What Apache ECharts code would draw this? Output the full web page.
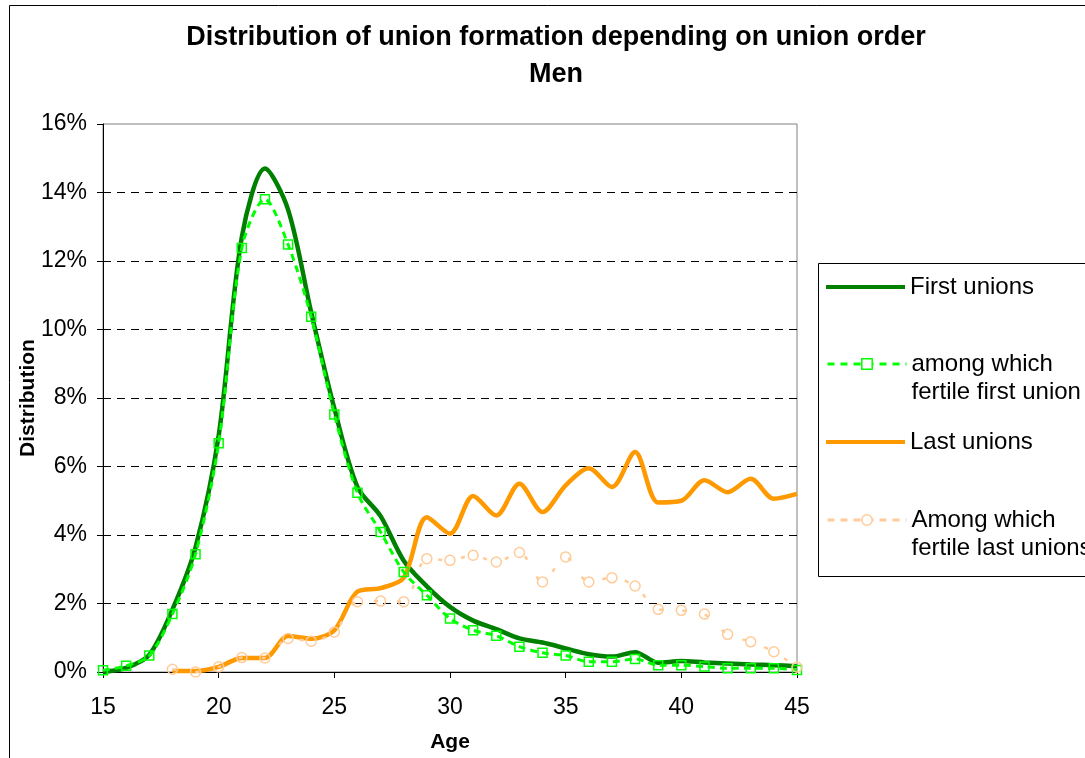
<!DOCTYPE html>
<html><head><meta charset="utf-8">
<script src="https://cdn.jsdelivr.net/npm/echarts@6/dist/echarts.min.js"></script>
<style>html,body{margin:0;padding:0;background:#fff}#c{width:1085px;height:758px}</style>
</head><body><div id="c"></div>
<script>
const ages = [15,16,17,18,19,20,21,22,23,24,25,26,27,28,29,30,31,32,33,34,35,36,37,38,39,40,41,42,43,44,45];
const firstUnions = [0.0,0.12,0.5,1.82,3.64,6.9,12.7,14.7,13.5,10.5,7.7,5.4,4.55,3.25,2.5,1.9,1.5,1.25,0.98,0.86,0.69,0.52,0.45,0.58,0.27,0.32,0.28,0.25,0.22,0.2,0.17];
const fertileFirst = [0.05,0.18,0.48,1.69,3.44,6.68,12.38,13.8,12.48,10.37,7.52,5.23,4.09,2.92,2.24,1.56,1.22,1.06,0.74,0.56,0.48,0.30,0.30,0.38,0.2,0.2,0.16,0.11,0.11,0.11,0.06];
const lastUnions = [null,null,null,0.03,0.03,0.15,0.41,0.41,1.05,0.97,1.22,2.35,2.45,2.75,4.52,4.04,5.14,4.57,5.5,4.67,5.45,5.95,5.4,6.42,4.95,5.0,5.6,5.25,5.64,5.06,5.2];
const fertileLast = [null,null,null,0.08,0.0,0.15,0.42,0.41,0.98,0.9,1.17,2.05,2.07,2.05,3.31,3.26,3.41,3.21,3.49,2.63,3.36,2.63,2.75,2.51,1.83,1.8,1.69,1.1,0.88,0.59,0.14];
const seriesNames = ['First unions','among which\nfertile first union','Last unions','Among which\nfertile last unions'];
const titleText = 'Distribution of union formation depending on union order\nMen';
const yTicks = [0,2,4,6,8,10,12,14,16];

const FONT = 'Liberation Sans, Arial, sans-serif';
const pairs = arr => ages.map((a, i) => [a, arr[i]]);
const C_FIRST = '#008000', C_FFIRST = '#00ff00', C_LAST = '#ff9900', C_FLAST = '#ffcc99';

const chart = echarts.init(document.getElementById('c'), null, {renderer: 'canvas'});
const textSt = {fontSize: 24, lineHeight: 28, color: '#000', fontFamily: FONT};
const twoLineFmt = name => '\n' + name;
chart.setOption({
  animation: false,
  backgroundColor: '#fff',
  title: {
    text: titleText, left: 551, top: 14, textAlign: 'center',
    textStyle: {fontSize: 27, fontWeight: 'bold', lineHeight: 37, color: '#000', fontFamily: FONT}
  },
  graphic: [
    {type: 'rect', silent: true, z: -10, shape: {x: 9.5, y: 5.5, width: 1100, height: 800}, style: {fill: 'none', stroke: '#000', lineWidth: 1}},
    {type: 'rect', silent: true, z: 1, shape: {x: 818.5, y: 263.5, width: 300, height: 313}, style: {fill: '#fff', stroke: '#000', lineWidth: 1}}
  ],
  legend: [
    {data: [seriesNames[0]], left: 826, top: 273, padding: 0, icon: 'rect', itemWidth: 79, itemHeight: 4, selectedMode: false, textStyle: textSt, itemStyle: {color: C_FIRST}},
    {data: [seriesNames[1]], left: 826, top: 322, padding: 0, itemWidth: 79, itemHeight: 13, selectedMode: false, textStyle: textSt, formatter: twoLineFmt,
     lineStyle: {color: C_FFIRST, width: 3, type: [7, 6]}, itemStyle: {color: '#fff', borderColor: C_FFIRST, borderWidth: 1.5}},
    {data: [seriesNames[2]], left: 826, top: 428, padding: 0, icon: 'rect', itemWidth: 79, itemHeight: 4, selectedMode: false, textStyle: textSt, itemStyle: {color: C_LAST}},
    {data: [seriesNames[3]], left: 826, top: 478, padding: 0, itemWidth: 79, itemHeight: 13, selectedMode: false, textStyle: textSt, formatter: twoLineFmt,
     lineStyle: {color: C_FLAST, width: 3, type: [7, 6]}, itemStyle: {color: '#fff', borderColor: C_FLAST, borderWidth: 1.5}}
  ],
  grid: {left: 103, right: 288, top: 124, bottom: 86, show: true, borderColor: '#808080', borderWidth: 1, backgroundColor: 'transparent'},
  xAxis: {
    type: 'value', min: 15, max: 45, interval: 5,
    name: 'Age', nameLocation: 'middle', nameGap: 60, nameMoveOverlap: false,
    nameTextStyle: {fontSize: 21, fontWeight: 'bold', color: '#000', fontFamily: FONT},
    axisLine: {show: true, lineStyle: {color: '#000', width: 1}},
    axisTick: {show: true, length: 6, lineStyle: {color: '#000'}},
    axisLabel: {fontSize: 23, color: '#000', fontFamily: FONT, margin: 24},
    splitLine: {show: false}
  },
  yAxis: {
    type: 'value', min: yTicks[0], max: yTicks[yTicks.length - 1], interval: 2,
    name: 'Distribution', nameLocation: 'middle', nameGap: 64, nameMoveOverlap: false,
    nameTextStyle: {fontSize: 21, fontWeight: 'bold', color: '#000', fontFamily: FONT},
    axisLine: {show: true, lineStyle: {color: '#000', width: 1}},
    axisTick: {show: true, length: 6, lineStyle: {color: '#000'}},
    axisLabel: {fontSize: 23, color: '#000', fontFamily: FONT, margin: 16, formatter: '{value}%'},
    splitLine: {show: true, lineStyle: {color: ['#000','#000','#000','#000','#000','#000','#000','#000','rgba(0,0,0,0)'], type: [8, 6], width: 1}}
  },
  series: [
    {name: seriesNames[0], type: 'line', data: pairs(firstUnions), smooth: 0.3, showSymbol: false, symbol: 'none',
     itemStyle: {color: C_FIRST}, lineStyle: {color: C_FIRST, width: 4.5}, emphasis: {disabled: true}, z: 2},
    {name: seriesNames[2], type: 'line', data: pairs(lastUnions), smooth: 0.3, showSymbol: false, symbol: 'none',
     itemStyle: {color: C_LAST}, lineStyle: {color: C_LAST, width: 4.5}, emphasis: {disabled: true}, z: 2},
    {name: seriesNames[1], type: 'line', data: pairs(fertileFirst), smooth: 0.3, symbol: 'rect', symbolSize: 9,
     itemStyle: {color: 'rgba(0,0,0,0)', borderColor: C_FFIRST, borderWidth: 1.5},
     lineStyle: {color: C_FFIRST, width: 3, type: [7, 5]}, emphasis: {disabled: true}, z: 3},
    {name: seriesNames[3], type: 'line', data: pairs(fertileLast), smooth: 0.3, symbol: 'circle', symbolSize: 10,
     itemStyle: {color: 'rgba(0,0,0,0)', borderColor: C_FLAST, borderWidth: 1.5},
     lineStyle: {color: C_FLAST, width: 2.5, type: [4, 19]}, emphasis: {disabled: true}, z: 3}
  ]
});
</script>
</body></html>
